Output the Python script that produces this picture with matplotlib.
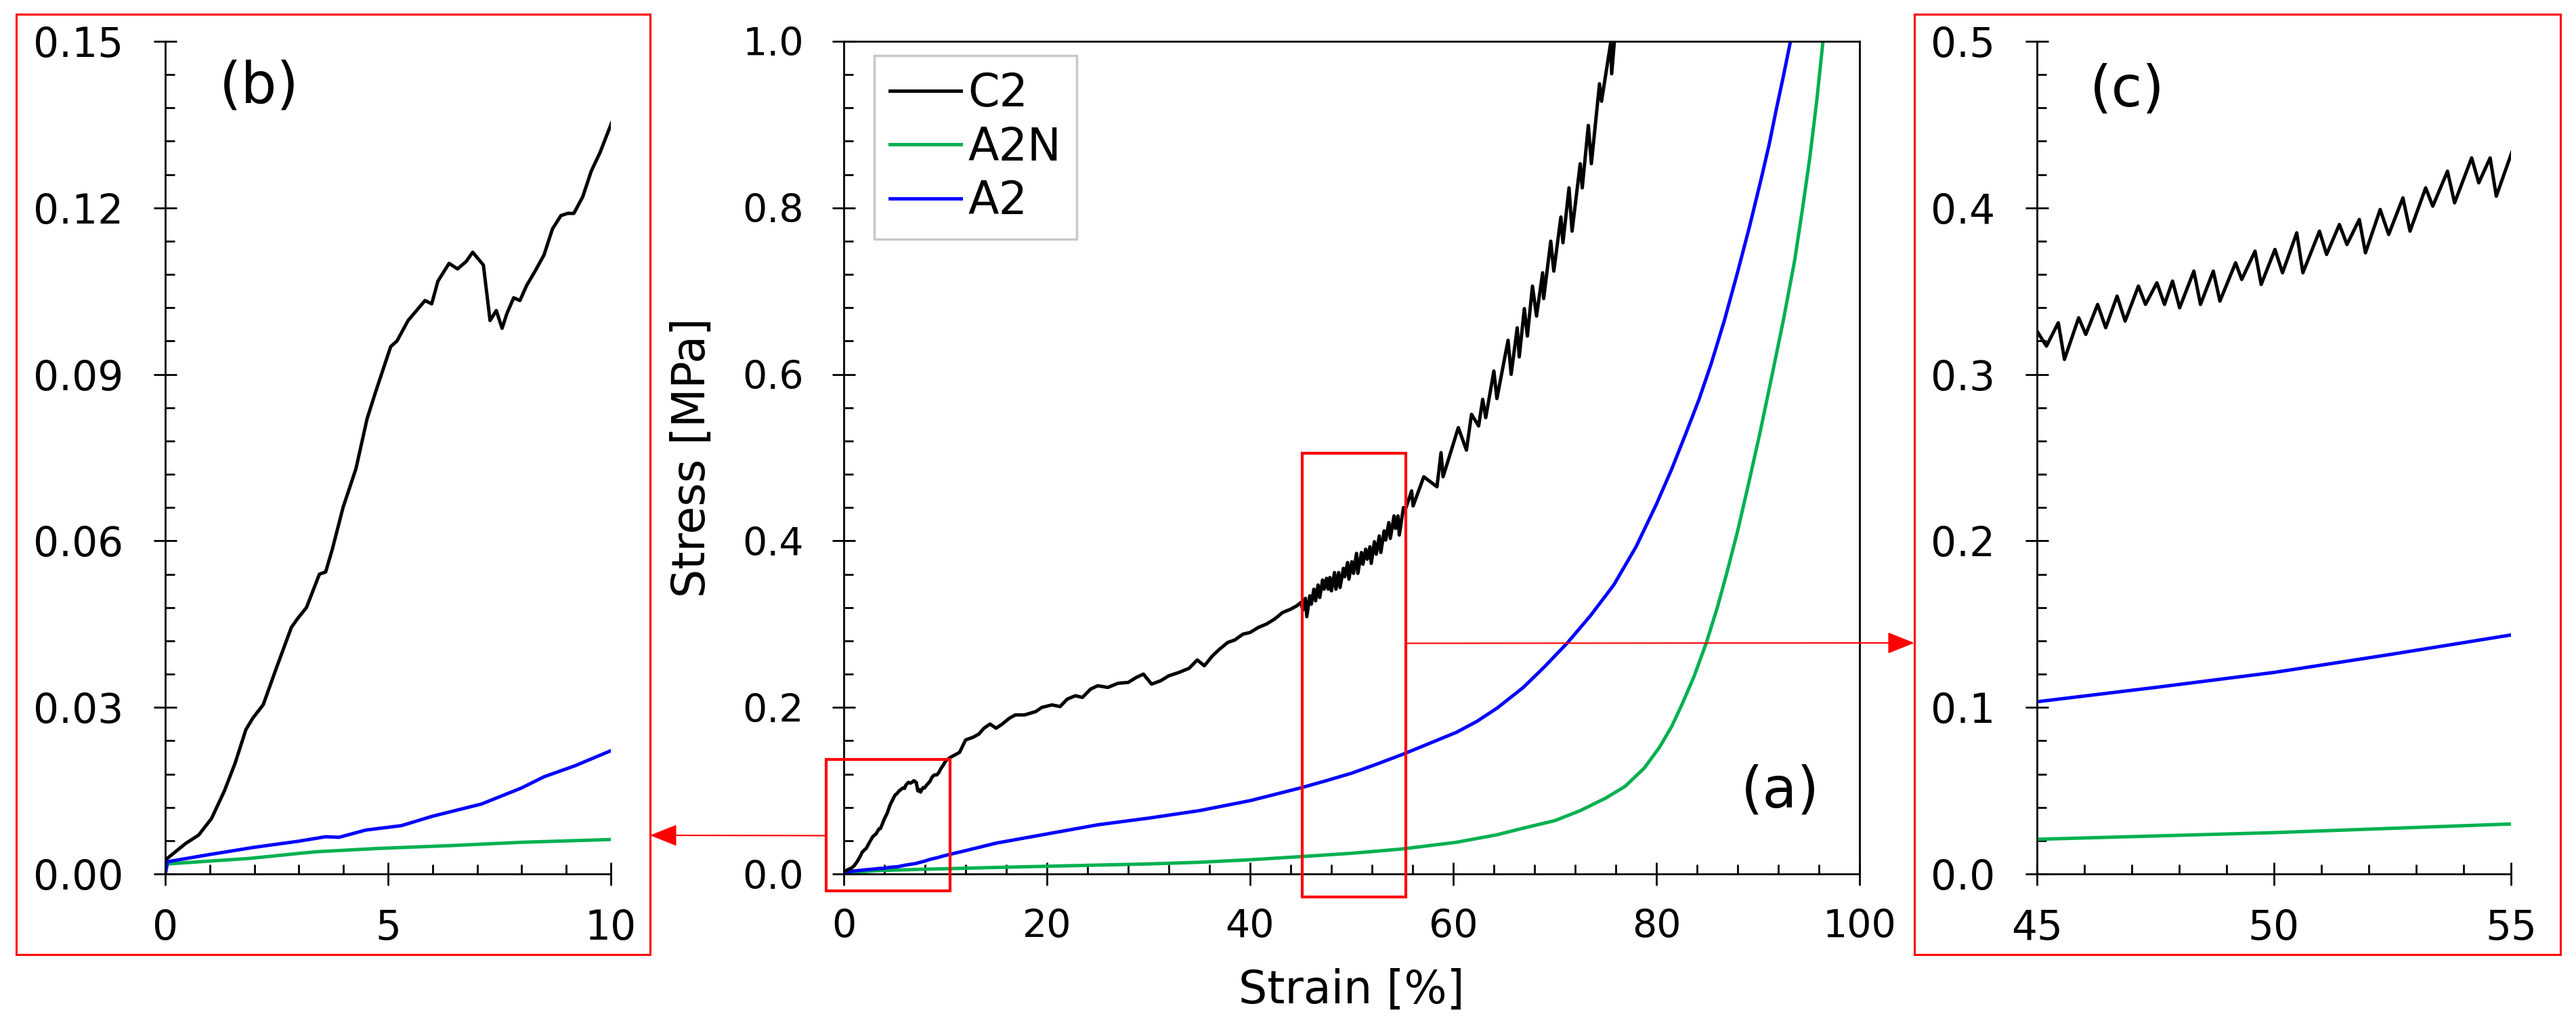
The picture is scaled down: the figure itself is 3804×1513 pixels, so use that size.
import numpy as np
import matplotlib
matplotlib.use("Agg")
import matplotlib.pyplot as plt
from matplotlib.patches import Rectangle
from matplotlib.ticker import MultipleLocator, FormatStrFormatter

plt.rcParams["font.family"] = "DejaVu Sans"

# C2 stress-strain curve (strain in %, stress in MPa)
c2_strain = [
    0.0, 0.46, 0.75, 1.04, 1.33, 1.57, 1.81, 1.96, 2.2, 2.49, 2.83, 2.97, 3.17,
    3.46, 3.6, 3.75, 3.99, 4.28, 4.53, 4.72, 5.06, 5.2, 5.45, 5.64, 5.83, 5.98,
    6.12, 6.37, 6.56, 6.75, 6.9, 7.14, 7.29, 7.43, 7.56, 7.67, 7.82, 7.96, 8.11,
    8.3, 8.5, 8.69, 8.88, 9.03, 9.17, 9.37, 9.56, 9.76, 10.05, 10.5, 11.4, 12.0,
    12.7, 13.3, 13.8, 14.4, 15.0, 15.6, 16.3, 16.9, 17.8, 18.9, 19.5, 20.5, 21.3,
    22.0, 22.8, 23.5, 24.3, 25.0, 26.0, 27.0, 28.0, 28.8, 29.5, 30.3, 31.2, 32.0,
    33.0, 34.0, 34.8, 35.5, 36.3, 37.0, 37.8, 38.5, 39.3, 40.0, 40.8, 41.6, 42.4,
    43.2, 44.0, 44.6,
    45.0, 45.2, 45.45, 45.58, 45.88, 46.03, 46.28, 46.45, 46.69, 46.86, 47.14,
    47.29, 47.53, 47.69, 47.86, 48.01, 48.31, 48.45, 48.72, 48.86, 49.19, 49.32,
    49.6, 49.73, 50.02, 50.18, 50.48, 50.61, 50.96, 51.11, 51.38, 51.54, 51.8,
    51.93, 52.24, 52.42, 52.72, 52.87, 53.2, 53.35, 53.66, 53.81, 54.17, 54.32,
    54.56, 54.69, 55.1,
    55.3, 55.9, 56.05, 57.1, 58.4, 58.8, 59.0, 60.5, 61.3, 61.8, 62.5, 62.9,
    63.2, 64.0, 64.3, 65.4, 65.7, 66.3, 66.5, 67.0, 67.3, 67.8, 68.2, 68.8,
    68.9, 69.6, 69.9, 70.6, 70.8, 71.4, 71.7, 72.5, 72.7, 73.3, 73.6, 74.4,
    74.6, 75.5, 75.6, 76.0,
]
c2_stress = [
    0.0025, 0.0055, 0.007, 0.010, 0.015, 0.020, 0.026, 0.028, 0.0305, 0.037,
    0.0444, 0.046, 0.048, 0.054, 0.0544, 0.0585, 0.066, 0.073, 0.082, 0.0868,
    0.095, 0.096, 0.0997, 0.1015, 0.1033, 0.1027, 0.1068, 0.110, 0.109, 0.1103,
    0.112, 0.1097, 0.0997, 0.1015, 0.0983, 0.101, 0.1038, 0.1033, 0.106, 0.1086,
    0.1115, 0.1162, 0.1186, 0.119, 0.119, 0.122, 0.1266, 0.130, 0.136, 0.140,
    0.146, 0.161, 0.164, 0.168, 0.175, 0.180, 0.175, 0.180, 0.187, 0.191, 0.191,
    0.195, 0.200, 0.203, 0.201, 0.210, 0.214, 0.212, 0.222, 0.226, 0.224, 0.229,
    0.230, 0.236, 0.240, 0.228, 0.232, 0.238, 0.242, 0.247, 0.257, 0.250, 0.262,
    0.270, 0.278, 0.281, 0.288, 0.290, 0.296, 0.300, 0.306, 0.314, 0.318, 0.322,
    0.326, 0.317, 0.331, 0.309, 0.334, 0.324, 0.342, 0.328, 0.347, 0.332, 0.353,
    0.342, 0.355, 0.342, 0.356, 0.340, 0.362, 0.342, 0.362, 0.344, 0.367, 0.357,
    0.374, 0.354, 0.375, 0.361, 0.385, 0.361, 0.386, 0.372, 0.390, 0.378, 0.393,
    0.373, 0.399, 0.384, 0.406, 0.386, 0.412, 0.401, 0.422, 0.403, 0.430, 0.415,
    0.430, 0.407, 0.440,
    0.438, 0.460, 0.442, 0.477, 0.465, 0.506, 0.477, 0.536, 0.509, 0.552, 0.538,
    0.570, 0.548, 0.604, 0.571, 0.641, 0.600, 0.656, 0.621, 0.679, 0.646, 0.706,
    0.670, 0.722, 0.691, 0.760, 0.724, 0.789, 0.758, 0.824, 0.772, 0.853, 0.824,
    0.899, 0.853, 0.949, 0.928, 0.998, 0.961, 1.02,
]

# A2N
a2n_strain = [
    0.0, 0.05, 1.9, 3.0, 3.4, 4.8, 6.4, 8.0, 10.0, 15.0, 20.0, 25.0, 30.0, 35.0,
    40.0, 45.0, 50.0, 55.0, 60.3, 64.3, 66.9, 70.0, 72.5, 75.0, 76.9, 78.8, 80.3,
    81.5, 82.5, 83.7, 84.9, 86.0, 86.9, 88.0, 89.1, 90.2, 91.3, 92.5, 93.6, 94.4,
    95.1, 95.8, 96.4,
]
a2n_stress = [
    0.0, 0.0018, 0.0028, 0.0037, 0.0040, 0.0046, 0.0051, 0.0057, 0.0062, 0.0078,
    0.0092, 0.0106, 0.012, 0.014, 0.017, 0.0208, 0.0248, 0.030, 0.038, 0.047,
    0.055, 0.064, 0.076, 0.091, 0.105, 0.127, 0.152, 0.177, 0.203, 0.237, 0.277,
    0.320, 0.360, 0.412, 0.470, 0.530, 0.594, 0.665, 0.736, 0.800, 0.860, 0.930,
    1.0,
]

# A2
a2_strain = [
    0.0, 0.05, 1.0, 2.0, 3.0, 3.6, 3.9, 4.5, 5.3, 6.0, 7.1, 8.0, 8.5, 9.2, 10.0,
    12.0, 15.0, 20.0, 25.0, 30.0, 35.0, 40.0, 45.0, 47.5, 50.0, 52.5, 55.0, 57.5,
    60.3, 62.3, 64.3, 66.9, 69.0, 71.2, 73.5, 75.8, 78.0, 80.0, 81.5, 82.9, 84.2,
    85.4, 86.7, 88.0, 89.2, 90.3, 91.1, 91.8, 92.5, 93.2,
]
a2_stress = [
    0.0, 0.0022, 0.0035, 0.0048, 0.0059, 0.0067, 0.0066, 0.0079, 0.0087, 0.0104,
    0.0126, 0.0155, 0.0175, 0.0195, 0.0222, 0.028, 0.037, 0.048, 0.059, 0.067,
    0.076, 0.088, 0.1034, 0.112, 0.121, 0.132, 0.1435, 0.156, 0.170, 0.183,
    0.199, 0.224, 0.249, 0.277, 0.310, 0.347, 0.393, 0.444, 0.486, 0.529, 0.570,
    0.613, 0.665, 0.723, 0.779, 0.834, 0.876, 0.918, 0.958, 1.0,
]

green = "#00B050"
blue = "#0000FF"
lw = 3.6

W, H = 3805, 1513
fig = plt.figure(figsize=(W / 100, H / 100), dpi=100)


def px_axes(left, right, top, bottom):
    return fig.add_axes([left / W, 1 - bottom / H, (right - left) / W, (bottom - top) / H])


ax_b = px_axes(244, 902, 61, 1290)
ax_a = px_axes(1246, 2746, 61, 1290)
ax_c = px_axes(3008, 3708, 61, 1290)

for ax in (ax_a, ax_b, ax_c):
    ax.plot(a2n_strain, a2n_stress, color=green, lw=lw, label="A2N")
    ax.plot(a2_strain, a2_stress, color=blue, lw=lw, label="A2")
    ax.plot(c2_strain, c2_stress, color="black", lw=lw, label="C2")
    for sp in ax.spines.values():
        sp.set_linewidth(2)
    ax.tick_params(which="major", direction="inout", length=25, width=2,
                   top=False, right=False)
    ax.tick_params(which="minor", direction="in", length=10, width=2,
                   top=False, right=False)

# main panel (a)
ax_a.set_xlim(0, 100)
ax_a.set_ylim(0, 1.0)
ax_a.xaxis.set_major_locator(MultipleLocator(20))
ax_a.xaxis.set_minor_locator(MultipleLocator(4))
ax_a.yaxis.set_major_locator(MultipleLocator(0.2))
ax_a.yaxis.set_minor_locator(MultipleLocator(0.04))
ax_a.yaxis.set_major_formatter(FormatStrFormatter("%.1f"))
ax_a.tick_params(axis="both", which="major", labelsize=41)
ax_a.tick_params(axis="x", which="major", pad=24)
ax_a.tick_params(axis="y", which="major", pad=30)
ax_a.set_xlabel("Strain [%]", fontsize=48, labelpad=24)
ax_a.set_ylabel("Stress [MPa]", fontsize=48, labelpad=30)
ax_a.text(92.2, 0.099, "(a)", fontsize=60, ha="center", va="center")

handles, labels = ax_a.get_legend_handles_labels()
order = [2, 0, 1]
leg = ax_a.legend([handles[i] for i in order], [labels[i] for i in order],
                  loc="upper left", bbox_to_anchor=(0.03, 0.983),
                  borderaxespad=0, fontsize=48, handlelength=1.57,
                  handletextpad=0.15, labelspacing=0.2, borderpad=0.35,
                  fancybox=False, framealpha=1)
leg.get_frame().set_edgecolor("#c8c8c8")
leg.get_frame().set_linewidth(2.5)

# zoom boxes on (a)
ax_a.add_patch(Rectangle((-1.73, -0.020), 12.2, 0.1575, fill=False,
                         ec="red", lw=3, clip_on=False, zorder=5))
ax_a.add_patch(Rectangle((45.1, -0.028), 10.2, 0.533, fill=False,
                         ec="red", lw=3, clip_on=False, zorder=5))

# inset (b)
ax_b.set_xlim(0, 10)
ax_b.set_ylim(0, 0.15)
ax_b.xaxis.set_major_locator(MultipleLocator(5))
ax_b.xaxis.set_minor_locator(MultipleLocator(1))
ax_b.yaxis.set_major_locator(MultipleLocator(0.03))
ax_b.yaxis.set_minor_locator(MultipleLocator(0.006))
ax_b.yaxis.set_major_formatter(FormatStrFormatter("%.2f"))
ax_b.text(2.11, 0.1418, "(b)", fontsize=60, ha="center", va="center")

# inset (c)
ax_c.set_xlim(45, 55)
ax_c.set_ylim(0, 0.5)
ax_c.xaxis.set_major_locator(MultipleLocator(5))
ax_c.xaxis.set_minor_locator(MultipleLocator(1))
ax_c.yaxis.set_major_locator(MultipleLocator(0.1))
ax_c.yaxis.set_minor_locator(MultipleLocator(0.02))
ax_c.yaxis.set_major_formatter(FormatStrFormatter("%.1f"))
ax_c.text(46.9, 0.4707, "(c)", fontsize=60, ha="center", va="center")

for ax in (ax_b, ax_c):
    ax.spines["top"].set_visible(False)
    ax.spines["right"].set_visible(False)
    ax.tick_params(axis="both", which="major", labelsize=43)
    ax.tick_params(axis="x", which="major", pad=24)
    ax.tick_params(axis="y", which="major", pad=32)

# red frames round the insets
for left, right in [(24, 960), (2827, 3781)]:
    fig.add_artist(Rectangle((left / W, 1 - 1409 / H), (right - left) / W,
                             (1409 - 21) / H, transform=fig.transFigure,
                             fill=False, ec="red", lw=2.2))

# arrows from the zoom boxes to the insets
arrow = dict(arrowstyle="-|>,head_length=1.0,head_width=0.4", color="red",
             lw=1.5, mutation_scale=25, shrinkA=0, shrinkB=0)
ax_a.annotate("", xy=(960 / W, 1 - 1233 / H), xycoords="figure fraction",
              xytext=(-1.73, 0.046), textcoords="data", arrowprops=arrow,
              annotation_clip=False)
ax_a.annotate("", xy=(2827 / W, 1 - 949 / H), xycoords="figure fraction",
              xytext=(55.3, 0.277), textcoords="data", arrowprops=arrow,
              annotation_clip=False)

fig.savefig("out.png", dpi=100)
